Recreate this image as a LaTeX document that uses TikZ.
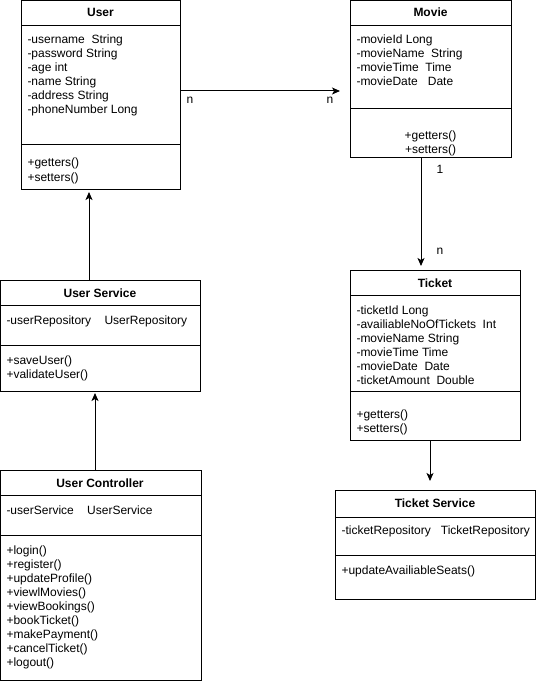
\documentclass[tikz,border=0pt]{standalone}
\usepackage{fontspec}
\setmainfont{Liberation Sans}
\usetikzlibrary{arrows.meta}
\newcommand\umlbox[7]{%
  \node[box, minimum width={(#4-#2)*0.75pt}, minimum height={(#5-#3)*0.75pt}] (#1) at (#2,#3) {};
  \draw (#1.west |- 0,#6) -- (#1.east |- 0,#6);
  \draw (#1.west |- 0,#7) -- (#1.east |- 0,#7);
}
\begin{document}
\begin{tikzpicture}[x=0.75pt,y=-0.75pt, line width=0.75pt,
  box/.style={draw, anchor=north west, inner sep=0pt, outer sep=0pt},
  txt/.style={anchor=base west, inner sep=0pt, font=\fontsize{9}{10.5}\selectfont},
  ttl/.style={anchor=base, inner sep=0pt, font=\fontsize{9}{10.5}\selectfont\bfseries},
  lbl/.style={anchor=base, inner sep=0pt, font=\fontsize{9}{10.5}\selectfont},
  arr/.style={-{Stealth[length=6pt,width=5.25pt,inset=1.5pt]}}]
\useasboundingbox (0,0) rectangle (536,684);

% boxes
\umlbox{user}{21}{0.5}{180}{190}{26}{145}
\umlbox{movie}{350}{0.5}{511}{158}{26}{109}
\umlbox{usv}{0.5}{280}{200}{391}{305}{345}
\umlbox{uc}{0.5}{470}{201}{680}{495}{535}
\umlbox{ticket}{350}{270}{520}{440}{295}{391}
\umlbox{tsv}{335}{490}{535}{599}{517}{555}

% titles
\node[ttl] (tuser) at (100.5,17) {User};
\node[ttl] (tmovie) at (430.5,17) {Movie};
\node[ttl] (tusv) at (100,297) {User Service};
\node[ttl] (tuc) at (100,487) {User Controller};
\node[ttl] (tticket) at (435,287) {Ticket};
\node[ttl] (ttsv) at (435,507) {Ticket Service};

% User
\foreach \t [count=\i from 0] in {-username~~String,-password String,-age int,-name String,-address String,-phoneNumber Long}
  \node[txt] (ua\i) at (27,{44+14*\i}) {\t};
\foreach \t [count=\i from 0] in {+getters(),+setters()}
  \node[txt] (um\i) at (27,{167+14*\i}) {\t};

% Movie
\foreach \t [count=\i from 0] in {-movieId Long,-movieName~~String,-movieTime~~Time,-movieDate~~~Date}
  \node[txt] (ma\i) at (356,{44+14*\i}) {\t};
\foreach \t [count=\i from 0] in {+getters(),+setters()}
  \node[lbl] (mm\i) at (430.5,{140+14*\i}) {\t};

% User Service
\node[txt] (sa0) at (6,324) {-userRepository~~~~UserRepository};
\foreach \t [count=\i from 0] in {+saveUser(),+validateUser()}
  \node[txt] (sm\i) at (6,{364+14*\i}) {\t};

% User Controller
\node[txt] (ca0) at (6,514) {-userService~~~~UserService};
\foreach \t [count=\i from 0] in {+login(),+register(),+updateProfile(),+viewlMovies(),+viewBookings(),+bookTicket(),+makePayment(),+cancelTicket(),+logout()}
  \node[txt] (cm\i) at (6,{554+14*\i}) {\t};

% Ticket
\foreach \t [count=\i from 0] in {-ticketId Long,-availiableNoOfTickets~~Int,-movieName String,-movieTime Time,-movieDate~~Date,-ticketAmount~~Double}
  \node[txt] (ta\i) at (356,{314+14*\i}) {\t};
\foreach \t [count=\i from 0] in {+getters(),+setters()}
  \node[txt] (tm\i) at (356,{418+14*\i}) {\t};

% Ticket Service
\node[txt] (ra0) at (341,534) {-ticketRepository~~~TicketRepository};
\node[txt] (rm0) at (341,574) {+updateAvailiableSeats()};

% connectors
\coordinate (c1) at (340,91);
\draw[arr] (user.east |- c1) -- (c1);
\node[lbl] (n1) at (190,104) {n};
\node[lbl] (n2) at (330,104) {n};

\coordinate (t1) at (89,192);
\draw[arr] (usv.north -| t1) -- (t1);

\coordinate (t2) at (95,393);
\draw[arr] (uc.north -| t2) -- (t2);

\coordinate (t3) at (421,266);
\draw[arr] (movie.south -| t3) -- (t3);
\node[lbl] (n3) at (440,174) {1};
\node[lbl] (n4) at (440,254) {n};

\coordinate (t4) at (430,481);
\draw[arr] (ticket.south -| t4) -- (t4);
\end{tikzpicture}
\end{document}
